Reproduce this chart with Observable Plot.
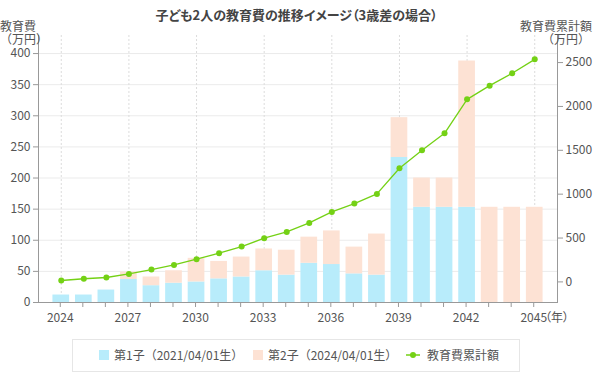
<!DOCTYPE html>
<html><head><meta charset="utf-8">
<script src="https://cdn.jsdelivr.net/npm/d3@7"></script>
<script src="https://cdn.jsdelivr.net/npm/@observablehq/plot@0.6"></script>
<style>
body{margin:0;background:#fff;font-family:"Noto Sans CJK JP","Noto Sans",sans-serif;}
#wrap{position:relative;width:593px;height:377px;overflow:hidden;}
.lbl{position:absolute;color:#555;font-size:12px;line-height:13px;white-space:nowrap;}
#title{position:absolute;left:0;width:593px;top:8px;text-align:center;font-size:13px;line-height:13px;font-weight:bold;color:#444;font-feature-settings:"palt";}
#legend{position:absolute;left:72px;top:339px;width:448px;height:33px;border:1px solid #e6e6e6;box-sizing:border-box;}
.li{position:absolute;top:9px;font-size:12px;color:#555;line-height:12px;white-space:nowrap;}
.sw{position:absolute;top:10px;width:10px;height:10px;}
#chart{position:absolute;left:0;top:0;}
</style></head>
<body><div id="wrap">
<div id="chart"></div>
<div id="title">子ども2人の教育費の推移イメージ（3歳差の場合）</div>
<div class="lbl" style="left:0;top:19px;text-align:left;">教育費<br>（万円）</div>
<div class="lbl" style="right:1px;top:19px;text-align:right;">教育費累計額<br><span style="margin-right:2px">（万円）</span></div>
<div class="lbl" style="left:545px;top:311px;line-height:12px;font-feature-settings:'palt';">（年）</div>
<div id="legend"></div>
</div>
<script>
const years = [2024,2025,2026,2027,2028,2029,2030,2031,2032,2033,2034,2035,2036,2037,2038,2039,2040,2041,2042,2043,2044,2045];
const child1 = [12,12,20,37,27,31,33,38,41,51,44,63,61,46,44,233,153,153,153,0,0,0];
const child2 = [0,0,0,12,14,20,38,28,32,35,40,42,54,43,66,64,47,47,235,153,153,153];
const cumulative = [16,36,50,91,141,194,259,327,403,498,570,672,798,893,1003,1295,1500,1694,2081,2237,2378,2537];
const labeledYears = [2024,2027,2030,2033,2036,2039,2042,2045];
const leftTicks = [0,50,100,150,200,250,300,350,400];
const rightTicks = [0,500,1000,1500,2000,2500];
const seriesNames = ["第1子（2021/04/01生）","第2子（2024/04/01生）","教育費累計額"];
const colors = ["#b8ecfb","#fde2d4","#74d115"];

// right axis (cumulative) mapped onto left scale units
const toLeft = d3.scaleLinear().domain([0,2500]).range([33.1,385.5]);

const bars = [];
years.forEach((y,i)=>{
  bars.push({year:y, s:seriesNames[0], v:child1[i]});
  bars.push({year:y, s:seriesNames[1], v:child2[i]});
});
const cum = years.map((y,i)=>({year:y, v:cumulative[i]}));

const plot = Plot.plot({
  width:593, height:330,
  marginTop:35, marginBottom:28, marginLeft:38, marginRight:36,
  style:{fontFamily:'"Noto Sans CJK JP","Noto Sans",sans-serif', fontSize:"12px", color:"#555", background:"transparent"},
  x:{type:"band", domain:years, paddingInner:0.26, paddingOuter:0.64, align:0.5, round:false},
  y:{domain:[0,429]},
  color:{domain:seriesNames.slice(0,2), range:colors.slice(0,2)},
  marks:[
    Plot.gridY(leftTicks,{stroke:"#ebebeb", strokeOpacity:1}),
    Plot.gridX(labeledYears,{stroke:"#dcdcdc", strokeOpacity:1, strokeDasharray:"2,2"}),
    Plot.barY(bars,{x:"year", y:"v", fill:"s", order:seriesNames.slice(0,2)}),
    Plot.line(cum,{x:"year", y:d=>toLeft(d.v), stroke:colors[2], strokeWidth:1.3}),
    Plot.dot(cum,{x:"year", y:d=>toLeft(d.v), fill:colors[2], r:3}),
    Plot.ruleY([0],{stroke:"#999"}),
    Plot.axisY(leftTicks,{anchor:"left", tickSize:5, tickPadding:3, stroke:"#999", fill:"#555", label:null}),
    Plot.axisY(rightTicks.map(d=>toLeft(d)),{anchor:"right", tickSize:5, tickPadding:3, stroke:"#999", fill:"#555", label:null, tickFormat:d=>String(Math.round(toLeft.invert(d)))}),
    Plot.axisX(years,{tickSize:5, tickPadding:6, stroke:"#999", fill:"#555", label:null, dx:-1, tickFormat:d=>labeledYears.includes(d)?String(d):""}),
    Plot.frame({anchor:"left", stroke:"#999"}),
    Plot.frame({anchor:"right", stroke:"#999"})
  ]
});
document.getElementById("chart").appendChild(plot);

const lg = document.getElementById("legend");
lg.innerHTML =
  `<div class="sw" style="left:26px;background:${colors[0]}"></div><div class="li" style="left:41px">${seriesNames[0]}</div>`+
  `<div class="sw" style="left:180px;background:${colors[1]}"></div><div class="li" style="left:195px">${seriesNames[1]}</div>`+
  `<svg style="position:absolute;left:333px;top:9px" width="14" height="12"><line x1="0" x2="14" y1="6" y2="6" stroke="${colors[2]}" stroke-width="1.5"/><circle cx="7" cy="6" r="3" fill="${colors[2]}"/></svg><div class="li" style="left:354px">${seriesNames[2]}</div>`;
</script>
</body></html>
